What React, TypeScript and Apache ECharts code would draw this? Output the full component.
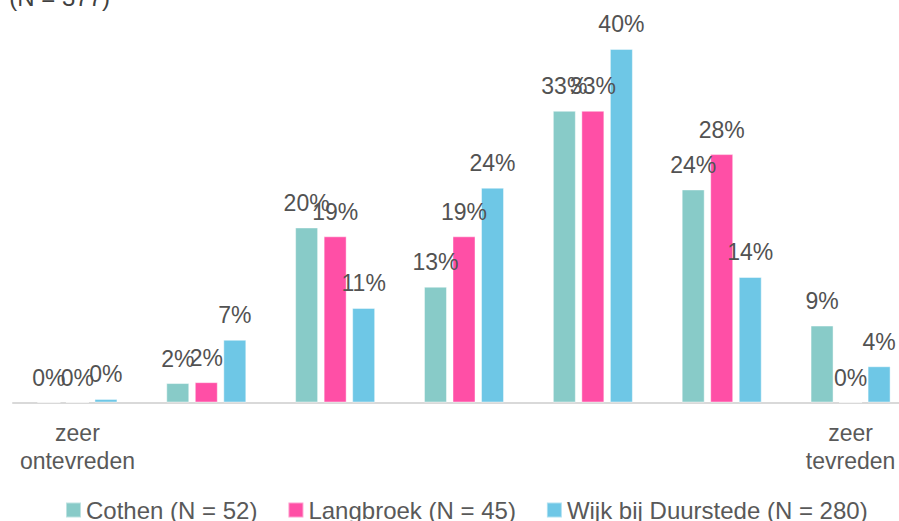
import React, { useEffect, useRef } from "react";
import * as echarts from "echarts";

const categories = ["zeer\nontevreden", "", "", "", "", "", "zeer\ntevreden"];
const seriesNames = ["Cothen (N = 52)", "Langbroek (N = 45)", "Wijk bij Duurstede (N = 280)"];
const cothen = [0, 2.2, 19.8, 13.1, 33.0, 24.1, 8.7];
const langbroek = [0, 2.3, 18.8, 18.8, 33.0, 28.1, 0];
const wijk = [0.4, 7.1, 10.7, 24.3, 40.0, 14.2, 4.1];
const colors = ["#88CBC8", "#FF4FA6", "#6EC7E6"];
const titleText = "(N = 377)";

const FONT = "'Liberation Sans', Arial, sans-serif";

export default function App() {
  const ref = useRef<HTMLDivElement>(null);
  useEffect(() => {
    if (!ref.current) return;
    const chart = echarts.init(ref.current, undefined, { renderer: "svg" });
    const mk = (name: string, data: number[], color: string) => ({
      name,
      type: "bar",
      data,
      barWidth: 23,
      barGap: "24%",
      itemStyle: { color, borderColor: "rgba(255,255,255,0.45)", borderWidth: 1 },
      label: {
        show: true,
        position: "top",
        distance: 13,
        fontSize: 23,
        fontFamily: FONT,
        color: "#525252",
        formatter: (p: any) => Math.round(p.value) + "%",
      },
    });
    chart.setOption({
      animation: false,
      textStyle: { fontFamily: FONT },
      grid: { left: 13, right: 0, top: 4.7, bottom: 118.5, containLabel: false },
      legend: {
        left: 60,
        top: 493,
        itemWidth: 15,
        itemHeight: 15,
        itemGap: 30,
        icon: "rect",
        textStyle: { fontSize: 24, color: "#595959", fontFamily: FONT },
        data: seriesNames,
      },
      xAxis: {
        type: "category",
        data: categories,
        axisLine: { lineStyle: { color: "#D9D9D9", width: 2 } },
        axisTick: { show: false },
        axisLabel: {
          interval: 0,
          fontSize: 23,
          lineHeight: 28,
          margin: 16,
          color: "#595959",
          fontFamily: FONT,
        },
      },
      yAxis: {
        type: "value",
        min: 0,
        max: 45,
        show: false,
        splitLine: { show: false },
      },
      graphic: [
        {
          type: "text",
          x: 110,
          y: 9,
          style: {
            text: titleText,
            fontSize: 24,
            fontFamily: FONT,
            fill: "#404040",
            textAlign: "right",
            textVerticalAlign: "bottom",
          },
        },
      ],
      series: [
        mk(seriesNames[0], cothen, colors[0]),
        mk(seriesNames[1], langbroek, colors[1]),
        mk(seriesNames[2], wijk, colors[2]),
      ],
    });
    return () => chart.dispose();
  }, []);
  return (
    <div
      ref={ref}
      style={{ position: "fixed", left: 0, top: 0, width: 915, height: 521, background: "#fff" }}
    />
  );
}
